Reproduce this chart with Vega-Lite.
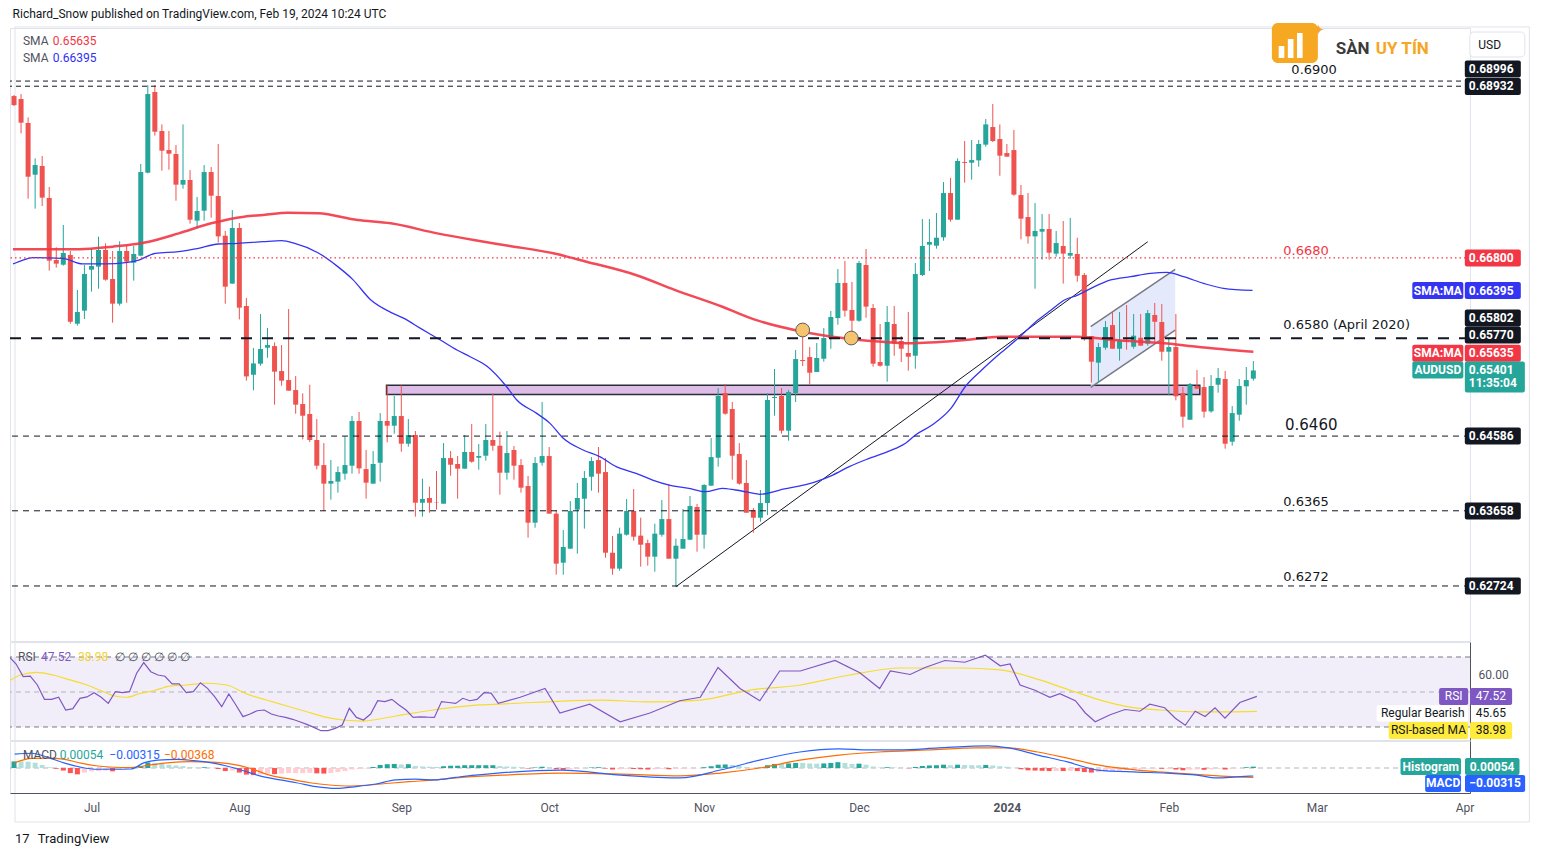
{
"$schema": "https://vega.github.io/schema/vega-lite/v6.json",
"background": "white",
"padding": {"left": 8, "top": 7, "right": 0, "bottom": 0},
"spacing": 1,
"bounds": "flush",
"config": {"font": "Roboto", "view": {"stroke": "#e0e3eb"}, "axis": {"grid": false}},
"datasets": {
"candles": [
{"i":-11,"o":0.6881,"h":0.68823,"l":0.68686,"c":0.68698},
{"i":-10,"o":0.68773,"h":0.68835,"l":0.68347,"c":0.68479},
{"i":-9,"o":0.68475,"h":0.68545,"l":0.67535,"c":0.67808},
{"i":-8,"o":0.67833,"h":0.68036,"l":0.67411,"c":0.67953},
{"i":-7,"o":0.67941,"h":0.68065,"l":0.67444,"c":0.67548},
{"i":-6,"o":0.67544,"h":0.6768,"l":0.66641,"c":0.66765},
{"i":-5,"o":0.66773,"h":0.66931,"l":0.66678,"c":0.66728},
{"i":-4,"o":0.66715,"h":0.67208,"l":0.66703,"c":0.6686},
{"i":-3,"o":0.66835,"h":0.66885,"l":0.65982,"c":0.66006},
{"i":-2,"o":0.65982,"h":0.66401,"l":0.65957,"c":0.66127},
{"i":-1,"o":0.66144,"h":0.66711,"l":0.6604,"c":0.66599},
{"i":0,"o":0.66653,"h":0.66918,"l":0.6638,"c":0.66699},
{"i":1,"o":0.66691,"h":0.67063,"l":0.66417,"c":0.66898},
{"i":2,"o":0.66898,"h":0.6698,"l":0.66517,"c":0.66529},
{"i":3,"o":0.66537,"h":0.66885,"l":0.65994,"c":0.66231},
{"i":4,"o":0.66231,"h":0.67005,"l":0.66206,"c":0.66885},
{"i":5,"o":0.66885,"h":0.66964,"l":0.66243,"c":0.66753},
{"i":6,"o":0.6674,"h":0.66947,"l":0.66517,"c":0.66848},
{"i":7,"o":0.66827,"h":0.67966,"l":0.6682,"c":0.67866},
{"i":8,"o":0.67858,"h":0.68947,"l":0.6785,"c":0.68835},
{"i":9,"o":0.6886,"h":0.68947,"l":0.68318,"c":0.68367},
{"i":10,"o":0.68376,"h":0.68458,"l":0.67883,"c":0.68131},
{"i":11,"o":0.68139,"h":0.68376,"l":0.67895,"c":0.68094},
{"i":12,"o":0.6809,"h":0.68202,"l":0.6751,"c":0.67709},
{"i":13,"o":0.67709,"h":0.68458,"l":0.67659,"c":0.67767},
{"i":14,"o":0.67767,"h":0.6789,"l":0.67225,"c":0.67274},
{"i":15,"o":0.67262,"h":0.67556,"l":0.67163,"c":0.67382},
{"i":16,"o":0.67386,"h":0.67953,"l":0.67262,"c":0.67866},
{"i":17,"o":0.67866,"h":0.67928,"l":0.67299,"c":0.67572},
{"i":18,"o":0.67568,"h":0.68214,"l":0.6699,"c":0.67067},
{"i":19,"o":0.67075,"h":0.67134,"l":0.66231,"c":0.66442},
{"i":20,"o":0.6648,"h":0.67394,"l":0.6648,"c":0.67171},
{"i":21,"o":0.67171,"h":0.67233,"l":0.66035,"c":0.66181},
{"i":22,"o":0.66202,"h":0.66301,"l":0.65274,"c":0.65327},
{"i":23,"o":0.65348,"h":0.65679,"l":0.65154,"c":0.65489},
{"i":24,"o":0.65485,"h":0.66102,"l":0.6546,"c":0.65667},
{"i":25,"o":0.65684,"h":0.65928,"l":0.65559,"c":0.65717},
{"i":26,"o":0.65704,"h":0.6575,"l":0.64976,"c":0.65386},
{"i":27,"o":0.65394,"h":0.65717,"l":0.65212,"c":0.65274},
{"i":28,"o":0.65282,"h":0.66164,"l":0.6515,"c":0.6515},
{"i":29,"o":0.65158,"h":0.65332,"l":0.64864,"c":0.64976},
{"i":30,"o":0.64984,"h":0.65117,"l":0.64545,"c":0.64839},
{"i":31,"o":0.6486,"h":0.65224,"l":0.64512,"c":0.64537},
{"i":32,"o":0.64537,"h":0.64798,"l":0.64172,"c":0.64218},
{"i":33,"o":0.64226,"h":0.64499,"l":0.63655,"c":0.63995},
{"i":34,"o":0.63995,"h":0.64288,"l":0.63796,"c":0.64028},
{"i":35,"o":0.6402,"h":0.64209,"l":0.63883,"c":0.64139},
{"i":36,"o":0.64119,"h":0.64582,"l":0.64044,"c":0.64226},
{"i":37,"o":0.64218,"h":0.64835,"l":0.64119,"c":0.64773},
{"i":38,"o":0.64773,"h":0.64885,"l":0.64119,"c":0.64185},
{"i":39,"o":0.64176,"h":0.64413,"l":0.63808,"c":0.64007},
{"i":40,"o":0.63995,"h":0.644,"l":0.63995,"c":0.64239},
{"i":41,"o":0.64255,"h":0.64872,"l":0.6402,"c":0.64773},
{"i":42,"o":0.64773,"h":0.65216,"l":0.64508,"c":0.64715},
{"i":43,"o":0.64715,"h":0.65084,"l":0.64616,"c":0.64835},
{"i":44,"o":0.64835,"h":0.65216,"l":0.64392,"c":0.64491},
{"i":45,"o":0.64491,"h":0.64798,"l":0.64454,"c":0.64599},
{"i":46,"o":0.64599,"h":0.64649,"l":0.63585,"c":0.63758},
{"i":47,"o":0.63758,"h":0.64057,"l":0.63585,"c":0.63804},
{"i":48,"o":0.63817,"h":0.63957,"l":0.63634,"c":0.63758},
{"i":49,"o":0.63767,"h":0.64152,"l":0.63672,"c":0.63763},
{"i":50,"o":0.63746,"h":0.64499,"l":0.63746,"c":0.64313},
{"i":51,"o":0.64313,"h":0.644,"l":0.64094,"c":0.6423},
{"i":52,"o":0.64239,"h":0.64338,"l":0.63808,"c":0.64181},
{"i":53,"o":0.64181,"h":0.64599,"l":0.64181,"c":0.64388},
{"i":54,"o":0.64388,"h":0.64735,"l":0.64255,"c":0.64268},
{"i":55,"o":0.64317,"h":0.64487,"l":0.64168,"c":0.64338},
{"i":56,"o":0.64342,"h":0.64735,"l":0.6428,"c":0.64537},
{"i":57,"o":0.64537,"h":0.65117,"l":0.64404,"c":0.64466},
{"i":58,"o":0.64466,"h":0.64641,"l":0.63858,"c":0.64131},
{"i":59,"o":0.64131,"h":0.64649,"l":0.64044,"c":0.64375},
{"i":60,"o":0.64413,"h":0.64462,"l":0.64044,"c":0.64218},
{"i":61,"o":0.64226,"h":0.643,"l":0.63883,"c":0.63945},
{"i":62,"o":0.63966,"h":0.6409,"l":0.63324,"c":0.6351},
{"i":63,"o":0.6351,"h":0.64325,"l":0.63448,"c":0.64251},
{"i":64,"o":0.64255,"h":0.65009,"l":0.64218,"c":0.64338},
{"i":65,"o":0.64338,"h":0.6445,"l":0.63622,"c":0.63622},
{"i":66,"o":0.63622,"h":0.63667,"l":0.62864,"c":0.63001},
{"i":67,"o":0.63013,"h":0.63419,"l":0.62864,"c":0.63208},
{"i":68,"o":0.63187,"h":0.63779,"l":0.63187,"c":0.63655},
{"i":69,"o":0.63672,"h":0.64003,"l":0.63125,"c":0.63817},
{"i":70,"o":0.63808,"h":0.64152,"l":0.63436,"c":0.64065},
{"i":71,"o":0.64081,"h":0.64325,"l":0.63907,"c":0.64276},
{"i":72,"o":0.64288,"h":0.6445,"l":0.63883,"c":0.64119},
{"i":73,"o":0.64139,"h":0.64313,"l":0.63075,"c":0.63137},
{"i":74,"o":0.63137,"h":0.63345,"l":0.62864,"c":0.62939},
{"i":75,"o":0.62939,"h":0.63448,"l":0.62914,"c":0.63374},
{"i":76,"o":0.63361,"h":0.63804,"l":0.63349,"c":0.63655},
{"i":77,"o":0.63655,"h":0.63928,"l":0.63287,"c":0.63336},
{"i":78,"o":0.63349,"h":0.63572,"l":0.62964,"c":0.63237},
{"i":79,"o":0.63257,"h":0.633,"l":0.62976,"c":0.63088},
{"i":80,"o":0.63088,"h":0.63498,"l":0.62902,"c":0.63374},
{"i":81,"o":0.63361,"h":0.63791,"l":0.63336,"c":0.63555},
{"i":82,"o":0.63555,"h":0.6399,"l":0.63063,"c":0.63063},
{"i":83,"o":0.63063,"h":0.63311,"l":0.62715,"c":0.63224},
{"i":84,"o":0.63187,"h":0.6368,"l":0.63187,"c":0.63307},
{"i":85,"o":0.63299,"h":0.63841,"l":0.63299,"c":0.63717},
{"i":86,"o":0.63705,"h":0.63742,"l":0.6315,"c":0.63361},
{"i":87,"o":0.63361,"h":0.6399,"l":0.63187,"c":0.63978},
{"i":88,"o":0.6397,"h":0.64562,"l":0.6397,"c":0.64325},
{"i":89,"o":0.64317,"h":0.65183,"l":0.64206,"c":0.65084},
{"i":90,"o":0.65121,"h":0.65233,"l":0.64851,"c":0.64864},
{"i":91,"o":0.64922,"h":0.65009,"l":0.64044,"c":0.64342},
{"i":92,"o":0.64363,"h":0.64499,"l":0.63982,"c":0.63995},
{"i":93,"o":0.64003,"h":0.64288,"l":0.63634,"c":0.63634},
{"i":94,"o":0.63667,"h":0.63692,"l":0.63386,"c":0.63572},
{"i":95,"o":0.63572,"h":0.63916,"l":0.63522,"c":0.63754},
{"i":96,"o":0.63754,"h":0.65117,"l":0.63605,"c":0.65034},
{"i":97,"o":0.65059,"h":0.65419,"l":0.64839,"c":0.65071},
{"i":98,"o":0.65084,"h":0.65183,"l":0.64616,"c":0.64653},
{"i":99,"o":0.64653,"h":0.65158,"l":0.64529,"c":0.65133},
{"i":100,"o":0.65121,"h":0.65655,"l":0.65009,"c":0.65543},
{"i":101,"o":0.65531,"h":0.65903,"l":0.65456,"c":0.65518},
{"i":102,"o":0.65568,"h":0.65692,"l":0.6522,"c":0.65373},
{"i":103,"o":0.65382,"h":0.65742,"l":0.65382,"c":0.65556},
{"i":104,"o":0.65547,"h":0.65928,"l":0.6551,"c":0.65804},
{"i":105,"o":0.65804,"h":0.6614,"l":0.65671,"c":0.66065},
{"i":106,"o":0.66052,"h":0.66661,"l":0.65969,"c":0.66488},
{"i":107,"o":0.66488,"h":0.66761,"l":0.66069,"c":0.66144},
{"i":108,"o":0.66152,"h":0.665,"l":0.65808,"c":0.66019},
{"i":109,"o":0.66019,"h":0.66761,"l":0.66006,"c":0.66736},
{"i":110,"o":0.66711,"h":0.6691,"l":0.66056,"c":0.66194},
{"i":111,"o":0.66177,"h":0.66227,"l":0.65448,"c":0.65485},
{"i":112,"o":0.65506,"h":0.65978,"l":0.65448,"c":0.6546},
{"i":113,"o":0.6546,"h":0.66202,"l":0.65262,"c":0.66003},
{"i":114,"o":0.65978,"h":0.66202,"l":0.65584,"c":0.65738},
{"i":115,"o":0.65767,"h":0.6583,"l":0.65506,"c":0.65671},
{"i":116,"o":0.65618,"h":0.66127,"l":0.65398,"c":0.65572},
{"i":117,"o":0.65584,"h":0.66736,"l":0.65423,"c":0.66599},
{"i":118,"o":0.66587,"h":0.67282,"l":0.66574,"c":0.66947},
{"i":119,"o":0.66964,"h":0.67282,"l":0.66637,"c":0.66997},
{"i":120,"o":0.66951,"h":0.67357,"l":0.66914,"c":0.6705},
{"i":121,"o":0.67055,"h":0.67742,"l":0.67013,"c":0.67605},
{"i":122,"o":0.67605,"h":0.67792,"l":0.6725,"c":0.67274},
{"i":123,"o":0.67274,"h":0.68036,"l":0.67274,"c":0.68003},
{"i":124,"o":0.6799,"h":0.68251,"l":0.67734,"c":0.67978},
{"i":125,"o":0.67982,"h":0.68264,"l":0.67771,"c":0.68015},
{"i":126,"o":0.68011,"h":0.68264,"l":0.67932,"c":0.68214},
{"i":127,"o":0.68206,"h":0.68525,"l":0.68181,"c":0.68458},
{"i":128,"o":0.68425,"h":0.68711,"l":0.68239,"c":0.68251},
{"i":129,"o":0.68276,"h":0.68458,"l":0.6782,"c":0.68069},
{"i":130,"o":0.68102,"h":0.68214,"l":0.68057,"c":0.68057},
{"i":131,"o":0.68139,"h":0.68388,"l":0.67572,"c":0.67585},
{"i":132,"o":0.6758,"h":0.67705,"l":0.6703,"c":0.67287},
{"i":133,"o":0.67307,"h":0.67605,"l":0.66976,"c":0.67067},
{"i":134,"o":0.67067,"h":0.67481,"l":0.66417,"c":0.67134},
{"i":135,"o":0.67125,"h":0.67345,"l":0.66777,"c":0.67158},
{"i":136,"o":0.67158,"h":0.67345,"l":0.66777,"c":0.66864},
{"i":137,"o":0.66852,"h":0.67134,"l":0.66814,"c":0.66984},
{"i":138,"o":0.66947,"h":0.67258,"l":0.6648,"c":0.66852},
{"i":139,"o":0.66827,"h":0.67295,"l":0.66789,"c":0.6686},
{"i":140,"o":0.66848,"h":0.6705,"l":0.66504,"c":0.66578},
{"i":141,"o":0.66587,"h":0.66612,"l":0.65771,"c":0.658},
{"i":142,"o":0.65829,"h":0.65829,"l":0.6525,"c":0.6551},
{"i":143,"o":0.65498,"h":0.65742,"l":0.6525,"c":0.65692},
{"i":144,"o":0.65684,"h":0.66015,"l":0.65659,"c":0.6594},
{"i":145,"o":0.65965,"h":0.6614,"l":0.65671,"c":0.65671},
{"i":146,"o":0.65671,"h":0.66127,"l":0.65523,"c":0.65771},
{"i":147,"o":0.65779,"h":0.66214,"l":0.65659,"c":0.65763},
{"i":148,"o":0.65696,"h":0.66102,"l":0.65671,"c":0.65833},
{"i":149,"o":0.65808,"h":0.66102,"l":0.65709,"c":0.65709},
{"i":150,"o":0.65734,"h":0.66152,"l":0.65709,"c":0.66114},
{"i":151,"o":0.6609,"h":0.66239,"l":0.65758,"c":0.66006},
{"i":152,"o":0.66003,"h":0.66227,"l":0.65523,"c":0.65634},
{"i":153,"o":0.65634,"h":0.65792,"l":0.65092,"c":0.65692},
{"i":154,"o":0.65692,"h":0.66102,"l":0.6503,"c":0.6508},
{"i":155,"o":0.65121,"h":0.65195,"l":0.6469,"c":0.64827},
{"i":156,"o":0.64789,"h":0.65245,"l":0.64789,"c":0.65233},
{"i":157,"o":0.65208,"h":0.65406,"l":0.65175,"c":0.65175},
{"i":158,"o":0.65195,"h":0.65319,"l":0.64814,"c":0.64889},
{"i":159,"o":0.64893,"h":0.65344,"l":0.64876,"c":0.65208},
{"i":160,"o":0.65224,"h":0.65431,"l":0.65125,"c":0.65307},
{"i":161,"o":0.65295,"h":0.65394,"l":0.64429,"c":0.64491},
{"i":162,"o":0.64516,"h":0.64959,"l":0.64466,"c":0.64872},
{"i":163,"o":0.64852,"h":0.65295,"l":0.64777,"c":0.65208},
{"i":164,"o":0.65204,"h":0.65444,"l":0.64976,"c":0.65282},
{"i":165,"o":0.65299,"h":0.65518,"l":0.65274,"c":0.65401}
],
"sma200": [
{"i":-11.14,"v":0.66906},{"i":-1.7,"v":0.66906},{"i":3,"v":0.66939},{"i":7.6,"v":0.6699},{"i":12.4,"v":0.67104},{"i":17,"v":0.67229},{"i":21.7,"v":0.67312},{"i":24.4,"v":0.67332},{"i":27.9,"v":0.67361},{"i":32.2,"v":0.67353},{"i":37.8,"v":0.6727},{"i":42.5,"v":0.67229},{"i":49.1,"v":0.67104},{"i":54.3,"v":0.67021},{"i":59.2,"v":0.66951},{"i":65.6,"v":0.66856},{"i":70.3,"v":0.66752},{"i":77.3,"v":0.66587},{"i":82.9,"v":0.664},{"i":89.6,"v":0.66193},{"i":94.1,"v":0.66036},{"i":101,"v":0.65883},{"i":105.2,"v":0.65821},{"i":112.3,"v":0.65758},{"i":116.1,"v":0.65738},{"i":124.1,"v":0.65779},{"i":129.1,"v":0.65821},{"i":140,"v":0.65821},{"i":145.2,"v":0.65779},{"i":152.3,"v":0.65738},{"i":157,"v":0.65696},{"i":161.7,"v":0.65655},{"i":165,"v":0.65635}
],
"sma50": [
{"i":-11.14,"v":0.66724},{"i":-9.73,"v":0.66773},{"i":-8.32,"v":0.66802},{"i":-4.09,"v":0.66794},{"i":-1.27,"v":0.66724},{"i":2.02,"v":0.66724},{"i":4.84,"v":0.6674},{"i":6.72,"v":0.66773},{"i":9.07,"v":0.66856},{"i":12.37,"v":0.66877},{"i":15.19,"v":0.66918},{"i":18.01,"v":0.66972},{"i":20.83,"v":0.6698},{"i":24.4,"v":0.67001},{"i":26.99,"v":0.67013},{"i":28.87,"v":0.6698},{"i":32.16,"v":0.66864},{"i":34.98,"v":0.66691},{"i":37.09,"v":0.66533},{"i":39.68,"v":0.66276},{"i":42.5,"v":0.66123},{"i":44.38,"v":0.66048},{"i":46.73,"v":0.65924},{"i":49.55,"v":0.65779},{"i":51.9,"v":0.65655},{"i":53.78,"v":0.65572},{"i":56.13,"v":0.65456},{"i":58.96,"v":0.65199},{"i":60.41,"v":0.65034},{"i":63.23,"v":0.64868},{"i":65.12,"v":0.64744},{"i":67,"v":0.64558},{"i":69.82,"v":0.64413},{"i":72.17,"v":0.6433},{"i":74.52,"v":0.64206},{"i":77.34,"v":0.64123},{"i":79.69,"v":0.6404},{"i":82.04,"v":0.63978},{"i":84.86,"v":0.63937},{"i":87.21,"v":0.63895},{"i":89.56,"v":0.63937},{"i":91.44,"v":0.63916},{"i":94.08,"v":0.63875},{"i":94.92,"v":0.63862},{"i":97.74,"v":0.63916},{"i":102.91,"v":0.6402},{"i":105.27,"v":0.64102},{"i":107.62,"v":0.64206},{"i":110.44,"v":0.64309},{"i":114.2,"v":0.64433},{"i":115.61,"v":0.64496},{"i":117.02,"v":0.64599},{"i":119.37,"v":0.64723},{"i":122.05,"v":0.6493},{"i":124.08,"v":0.65199},{"i":126.43,"v":0.65406},{"i":129.06,"v":0.65614},{"i":131.59,"v":0.658},{"i":134.41,"v":0.66028},{"i":136.29,"v":0.66152},{"i":138.18,"v":0.66276},{"i":140.06,"v":0.66338},{"i":141.94,"v":0.66421},{"i":144.75,"v":0.66525},{"i":147.57,"v":0.66566},{"i":150.4,"v":0.66607},{"i":152.75,"v":0.6662},{"i":155.1,"v":0.66566},{"i":157.92,"v":0.66483},{"i":160.75,"v":0.66421},{"i":164.88,"v":0.66395}
],
"rsi": [
{"i":-11,"v":70.2},{"i":-10,"v":66},{"i":-9,"v":58.8},{"i":-8,"v":59.1},{"i":-7,"v":54},{"i":-6,"v":45.8},{"i":-5,"v":45.8},{"i":-4,"v":47},{"i":-3,"v":39.7},{"i":-2,"v":40.5},{"i":-1,"v":46.4},{"i":0,"v":47.2},{"i":1,"v":49.6},{"i":2,"v":47},{"i":3,"v":43.5},{"i":4,"v":50.2},{"i":5,"v":49.6},{"i":6,"v":50.2},{"i":7,"v":60.7},{"i":8,"v":66.8},{"i":9,"v":61.6},{"i":10,"v":59.7},{"i":11,"v":59},{"i":12,"v":54.6},{"i":13,"v":54.6},{"i":14,"v":49.6},{"i":15,"v":50.2},{"i":16,"v":55.3},{"i":17,"v":52.1},{"i":18,"v":47.3},{"i":19,"v":41.6},{"i":20,"v":48.9},{"i":21,"v":42.6},{"i":22,"v":35.9},{"i":23,"v":37.4},{"i":24,"v":39.3},{"i":25,"v":39.7},{"i":26,"v":37.4},{"i":27,"v":36.3},{"i":28,"v":35.5},{"i":29,"v":34.4},{"i":30,"v":33},{"i":31,"v":31.5},{"i":32,"v":29.8},{"i":33,"v":27.9},{"i":34,"v":27.9},{"i":35,"v":29.2},{"i":36,"v":31.1},{"i":37,"v":40.7},{"i":38,"v":35.5},{"i":39,"v":34},{"i":40,"v":37.4},{"i":41,"v":45},{"i":42,"v":44.5},{"i":43,"v":45.8},{"i":44,"v":42.6},{"i":45,"v":39.7},{"i":46,"v":35.5},{"i":47,"v":35.8},{"i":48,"v":35.6},{"i":49,"v":35.5},{"i":50,"v":44.5},{"i":51,"v":44},{"i":52,"v":43.5},{"i":53,"v":46.4},{"i":54,"v":45},{"i":55,"v":45.8},{"i":56,"v":49.6},{"i":57,"v":49.4},{"i":58,"v":43.5},
{"i":61.1,"v":47},{"i":64.6,"v":52},{"i":66.7,"v":38},{"i":70.9,"v":43},{"i":75.2,"v":33},{"i":79.4,"v":38},{"i":83.6,"v":45},{"i":86.5,"v":47},{"i":89,"v":64},{"i":92.1,"v":52},{"i":94.9,"v":45},{"i":97.7,"v":62},{"i":100.6,"v":62},{"i":105.5,"v":68},{"i":109,"v":61},{"i":111.8,"v":52},{"i":113.3,"v":62},{"i":116.1,"v":60},{"i":118.2,"v":64},{"i":121,"v":68},{"i":123.8,"v":67},{"i":126.7,"v":71},{"i":128.8,"v":65},{"i":130.2,"v":66},{"i":131.6,"v":54},{"i":133.7,"v":51},{"i":135.8,"v":47},{"i":137.2,"v":49},{"i":139.4,"v":45},{"i":140.8,"v":38},{"i":142.2,"v":33},{"i":144.3,"v":37},{"i":146.4,"v":40},{"i":148.5,"v":39},{"i":149.9,"v":43},{"i":152,"v":41},{"i":153.5,"v":35},{"i":154.9,"v":31},{"i":156.3,"v":39},{"i":157.7,"v":36},{"i":159.1,"v":41},{"i":160.5,"v":35},{"i":162.6,"v":44},{"i":165,"v":47.52}
],
"rsima": [
{"i":-10.9,"v":56.5},{"i":-9.4,"v":59.7},{"i":-7.1,"v":61.2},{"i":-4.8,"v":59.7},{"i":-2.4,"v":56.9},{"i":0,"v":54},{"i":2.3,"v":50.2},{"i":3.9,"v":47.7},{"i":5.6,"v":47},{"i":7.5,"v":49.2},{"i":9.4,"v":50.7},{"i":11.7,"v":53.4},{"i":14.1,"v":54},{"i":16.9,"v":55},{"i":19.7,"v":54},{"i":22.5,"v":48.9},{"i":25.3,"v":45.4},{"i":28.2,"v":42},{"i":31,"v":38.7},{"i":33.8,"v":35.5},{"i":36.1,"v":34},{"i":39,"v":33.4},{"i":41.8,"v":35},{"i":45.1,"v":37.4},{"i":48.8,"v":39.7},{"i":52.6,"v":41.6},{"i":55.4,"v":42.6},{"i":58.3,"v":43.1},{"i":72.4,"v":45.4},{"i":79.4,"v":44.3},{"i":86.5,"v":45.4},{"i":93.5,"v":51.1},{"i":100.6,"v":54},{"i":107.6,"v":59.7},{"i":114.7,"v":63.7},{"i":123.1,"v":63.7},{"i":128.8,"v":62.6},{"i":134.4,"v":56.9},{"i":138.6,"v":51.1},{"i":142.9,"v":45.4},{"i":147.1,"v":41.4},{"i":151.3,"v":39.7},{"i":157,"v":38.6},{"i":165,"v":38.98}
],
"macd": [
{"i":-10.9,"v":0.0055},{"i":-8.5,"v":0.0058},{"i":-6.2,"v":0.0042},{"i":-3.8,"v":0.0019},{"i":-1.5,"v":0.0003},{"i":0.9,"v":-0.0005},{"i":3.2,"v":-0.0005},{"i":5.6,"v":-0.0004},{"i":7.5,"v":0.0021},{"i":9.4,"v":0.0031},{"i":12.2,"v":0.0034},{"i":14.5,"v":0.0029},{"i":16.9,"v":0.0021},{"i":19.2,"v":0.0008},{"i":21.6,"v":-0.0011},{"i":23.9,"v":-0.0031},{"i":26.8,"v":-0.0047},{"i":29.1,"v":-0.0058},{"i":31.9,"v":-0.0073},{"i":34.7,"v":-0.008},{"i":37.6,"v":-0.0073},{"i":40.4,"v":-0.0063},{"i":43.2,"v":-0.0047},{"i":46,"v":-0.0044},{"i":48.8,"v":-0.0047},{"i":51.7,"v":-0.0037},{"i":54.5,"v":-0.0028},{"i":57.3,"v":-0.0021},{"i":66.7,"v":-0.0008},{"i":75.2,"v":-0.0028},{"i":83.6,"v":-0.0039},{"i":89.3,"v":-0.0008},{"i":94.9,"v":0.0031},{"i":100.6,"v":0.0063},{"i":106.2,"v":0.0075},{"i":110.4,"v":0.0071},{"i":114.7,"v":0.0071},{"i":120.3,"v":0.0079},{"i":127.4,"v":0.0087},{"i":130.2,"v":0.0079},{"i":134.4,"v":0.0051},{"i":138.6,"v":0.0024},{"i":142.9,"v":-0.0008},{"i":148.5,"v":-0.0016},{"i":152.7,"v":-0.002},{"i":157,"v":-0.0028},{"i":159.8,"v":-0.0039},{"i":162.6,"v":-0.0035},{"i":165,"v":-0.00315}
],
"signal": [
{"i":-10.9,"v":0.0021},{"i":-8.5,"v":0.0038},{"i":-6.2,"v":0.0039},{"i":-3.8,"v":0.0034},{"i":-1.5,"v":0.0019},{"i":0.9,"v":0.0008},{"i":3.2,"v":0.0003},{"i":5.6,"v":0.0002},{"i":8.4,"v":0.0012},{"i":11.2,"v":0.0021},{"i":14.1,"v":0.0025},{"i":16.9,"v":0.0023},{"i":19.7,"v":0.0016},{"i":22.5,"v":-0.0001},{"i":25.3,"v":-0.0028},{"i":28.2,"v":-0.0044},{"i":31,"v":-0.0058},{"i":33.8,"v":-0.0067},{"i":36.6,"v":-0.0071},{"i":39.4,"v":-0.0067},{"i":42.3,"v":-0.006},{"i":45.1,"v":-0.0054},{"i":48.8,"v":-0.0047},{"i":52.6,"v":-0.0037},{"i":58.3,"v":-0.0028},{"i":66.7,"v":-0.002},{"i":75.2,"v":-0.0024},{"i":83.6,"v":-0.0031},{"i":89.3,"v":-0.002},{"i":94.9,"v":0},{"i":100.6,"v":0.0031},{"i":106.2,"v":0.0051},{"i":111.8,"v":0.0063},{"i":118.8,"v":0.0071},{"i":125.9,"v":0.0079},{"i":130.2,"v":0.0079},{"i":134.4,"v":0.0063},{"i":138.6,"v":0.0039},{"i":142.9,"v":0.0012},{"i":148.5,"v":-0.0008},{"i":154.1,"v":-0.002},{"i":158.4,"v":-0.0028},{"i":162.6,"v":-0.0035},{"i":165,"v":-0.00368}
],
"hist": [
{"i":-11,"v":0.0026,"s":"pg"},{"i":-10,"v":0.0026,"s":"pf"},{"i":-9,"v":0.0025,"s":"pf"},{"i":-8,"v":0.0021,"s":"pf"},{"i":-7,"v":0.0012,"s":"pf"},{"i":-6,"v":0.0003,"s":"pf"},{"i":-5,"v":-0.0003,"s":"ng"},{"i":-4,"v":-0.001,"s":"ng"},{"i":-3,"v":-0.002,"s":"ng"},{"i":-2,"v":-0.0025,"s":"ng"},{"i":-1,"v":-0.0018,"s":"nf"},{"i":0,"v":-0.0013,"s":"nf"},{"i":1,"v":-0.0012,"s":"nf"},{"i":2,"v":-0.001,"s":"nf"},{"i":3,"v":-0.0013,"s":"ng"},{"i":4,"v":-0.0006,"s":"nf"},{"i":5,"v":-0.0003,"s":"nf"},{"i":6,"v":-0.0001,"s":"nf"},{"i":7,"v":0.0008,"s":"pg"},{"i":8,"v":0.0022,"s":"pg"},{"i":9,"v":0.002,"s":"pf"},{"i":10,"v":0.0017,"s":"pf"},{"i":11,"v":0.0013,"s":"pf"},{"i":12,"v":0.001,"s":"pf"},{"i":13,"v":0.0007,"s":"pf"},{"i":14,"v":0.0004,"s":"pf"},{"i":15,"v":0.0002,"s":"pf"},{"i":16,"v":0.0003,"s":"pg"},{"i":17,"v":0.0001,"s":"pf"},{"i":18,"v":-0.0004,"s":"ng"},{"i":19,"v":-0.0012,"s":"ng"},{"i":20,"v":-0.001,"s":"nf"},{"i":21,"v":-0.0018,"s":"ng"},{"i":22,"v":-0.0026,"s":"ng"},{"i":23,"v":-0.0028,"s":"ng"},{"i":24,"v":-0.0025,"s":"nf"},{"i":25,"v":-0.0022,"s":"nf"},{"i":26,"v":-0.0024,"s":"ng"},{"i":27,"v":-0.0022,"s":"nf"},{"i":28,"v":-0.002,"s":"nf"},{"i":29,"v":-0.002,"s":"nf"},{"i":30,"v":-0.002,"s":"nf"},{"i":31,"v":-0.0019,"s":"nf"},{"i":32,"v":-0.0021,"s":"ng"},{"i":33,"v":-0.0022,"s":"ng"},{"i":34,"v":-0.002,"s":"nf"},{"i":35,"v":-0.0016,"s":"nf"},{"i":36,"v":-0.0012,"s":"nf"},{"i":37,"v":-0.0006,"s":"nf"},{"i":38,"v":-0.0004,"s":"nf"},{"i":39,"v":-0.0002,"s":"nf"},{"i":40,"v":0.0004,"s":"pg"},{"i":41,"v":0.0012,"s":"pg"},{"i":42,"v":0.0015,"s":"pg"},{"i":43,"v":0.0016,"s":"pg"},{"i":44,"v":0.0014,"s":"pf"},{"i":45,"v":0.0015,"s":"pg"},{"i":46,"v":0.0008,"s":"pf"},{"i":47,"v":0.0006,"s":"pf"},{"i":48,"v":0.0005,"s":"pf"},{"i":49,"v":0.0004,"s":"pf"},{"i":50,"v":0.0007,"s":"pg"},{"i":51,"v":0.0009,"s":"pg"},{"i":52,"v":0.0009,"s":"pg"},{"i":53,"v":0.0011,"s":"pg"},{"i":54,"v":0.0011,"s":"pg"},{"i":55,"v":0.0011,"s":"pg"},{"i":56,"v":0.0011,"s":"pg"},{"i":57,"v":0.0011,"s":"pg"},{"i":58,"v":0.0008,"s":"pf"},
{"i":59,"v":0.0006,"s":"pf"},{"i":60,"v":0.0005,"s":"pf"},{"i":61,"v":0.0003,"s":"pf"},{"i":62,"v":-0.0002,"s":"ng"},{"i":63,"v":0.0002,"s":"pg"},{"i":64,"v":0.0005,"s":"pg"},{"i":65,"v":0.0002,"s":"pf"},{"i":66,"v":-0.0005,"s":"ng"},{"i":67,"v":-0.0007,"s":"ng"},{"i":68,"v":-0.0005,"s":"nf"},{"i":69,"v":-0.0003,"s":"nf"},{"i":70,"v":-0.0001,"s":"nf"},{"i":71,"v":0.0002,"s":"pg"},{"i":72,"v":0.0003,"s":"pg"},{"i":73,"v":-0.0002,"s":"ng"},{"i":74,"v":-0.0006,"s":"ng"},{"i":75,"v":-0.0005,"s":"nf"},{"i":76,"v":-0.0003,"s":"nf"},{"i":77,"v":-0.0004,"s":"ng"},{"i":78,"v":-0.0005,"s":"ng"},{"i":79,"v":-0.0006,"s":"ng"},{"i":80,"v":-0.0005,"s":"nf"},{"i":81,"v":-0.0003,"s":"nf"},{"i":82,"v":-0.0005,"s":"ng"},{"i":83,"v":-0.0004,"s":"nf"},{"i":84,"v":-0.0003,"s":"nf"},{"i":85,"v":-0.0001,"s":"nf"},{"i":86,"v":-0.0001,"s":"nf"},{"i":87,"v":0.0003,"s":"pg"},{"i":88,"v":0.0007,"s":"pg"},{"i":89,"v":0.0013,"s":"pg"},{"i":90,"v":0.0014,"s":"pg"},{"i":91,"v":0.0012,"s":"pf"},{"i":92,"v":0.0008,"s":"pf"},{"i":93,"v":0.0003,"s":"pf"},{"i":94,"v":0.0001,"s":"pf"},{"i":95,"v":0.0002,"s":"pg"},{"i":96,"v":0.0011,"s":"pg"},{"i":97,"v":0.0016,"s":"pg"},{"i":98,"v":0.0016,"s":"pf"},{"i":99,"v":0.0018,"s":"pg"},{"i":100,"v":0.002,"s":"pg"},{"i":101,"v":0.002,"s":"pf"},{"i":102,"v":0.0018,"s":"pf"},{"i":103,"v":0.0017,"s":"pf"},{"i":104,"v":0.0018,"s":"pg"},{"i":105,"v":0.002,"s":"pg"},{"i":106,"v":0.0023,"s":"pg"},{"i":107,"v":0.002,"s":"pf"},{"i":108,"v":0.0016,"s":"pf"},{"i":109,"v":0.0017,"s":"pg"},{"i":110,"v":0.0013,"s":"pf"},{"i":111,"v":0.0006,"s":"pf"},{"i":112,"v":0.0002,"s":"pf"},{"i":113,"v":0.0003,"s":"pg"},{"i":114,"v":0.0002,"s":"pf"},{"i":115,"v":0.0001,"s":"pf"},{"i":116,"v":-0.0001,"s":"ng"},{"i":117,"v":0.0004,"s":"pg"},{"i":118,"v":0.0008,"s":"pg"},{"i":119,"v":0.001,"s":"pg"},{"i":120,"v":0.0011,"s":"pg"},{"i":121,"v":0.0013,"s":"pg"},{"i":122,"v":0.0011,"s":"pf"},{"i":123,"v":0.0013,"s":"pg"},{"i":124,"v":0.0012,"s":"pf"},{"i":125,"v":0.0011,"s":"pf"},{"i":126,"v":0.0011,"s":"pf"},{"i":127,"v":0.0012,"s":"pg"},{"i":128,"v":0.001,"s":"pf"},{"i":129,"v":0.0007,"s":"pf"},{"i":130,"v":0.0005,"s":"pf"},{"i":131,"v":0.0001,"s":"pf"},{"i":132,"v":-0.0005,"s":"ng"},{"i":133,"v":-0.0009,"s":"ng"},{"i":134,"v":-0.001,"s":"ng"},{"i":135,"v":-0.0011,"s":"ng"},{"i":136,"v":-0.0012,"s":"ng"},{"i":137,"v":-0.0012,"s":"nf"},{"i":138,"v":-0.0012,"s":"ng"},{"i":139,"v":-0.0011,"s":"nf"},{"i":140,"v":-0.0012,"s":"ng"},{"i":141,"v":-0.0016,"s":"ng"},{"i":142,"v":-0.0018,"s":"ng"},{"i":143,"v":-0.0016,"s":"nf"},{"i":144,"v":-0.0013,"s":"nf"},{"i":145,"v":-0.0012,"s":"nf"},{"i":146,"v":-0.001,"s":"nf"},{"i":147,"v":-0.0008,"s":"nf"},{"i":148,"v":-0.0006,"s":"nf"},{"i":149,"v":-0.0005,"s":"nf"},{"i":150,"v":-0.0002,"s":"nf"},{"i":151,"v":-0.0002,"s":"nf"},{"i":152,"v":-0.0003,"s":"ng"},{"i":153,"v":-0.0003,"s":"nf"},{"i":154,"v":-0.0006,"s":"ng"},{"i":155,"v":-0.0009,"s":"ng"},{"i":156,"v":-0.0007,"s":"nf"},{"i":157,"v":-0.0006,"s":"nf"},{"i":158,"v":-0.0007,"s":"ng"},{"i":159,"v":-0.0005,"s":"nf"},{"i":160,"v":-0.0003,"s":"nf"},{"i":161,"v":-0.0006,"s":"ng"},{"i":162,"v":-0.0004,"s":"nf"},{"i":163,"v":-0.0001,"s":"nf"},{"i":164,"v":0.0003,"s":"pg"},{"i":165,"v":0.00054,"s":"pg"}
]
},
"vconcat": [
{
"width": 1460, "height": 613,
"resolve": {"scale": {"color": "independent"}},
"layer": [
{"data": {"values": [{"a": -10.86, "b": 204.2, "top": 0.69668, "bot": 0.59792}]},
 "mark": {"type": "rect", "fill": null, "stroke": "#e0e3eb", "strokeWidth": 1},
 "encoding": {"x": {"field": "a", "type": "quantitative", "scale": {"domain": [-10.86, 195.06], "nice": false, "zero": false}, "axis": null}, "x2": {"field": "b"}, "y": {"field": "top", "type": "quantitative", "scale": {"domain": [0.620404, 0.696553], "nice": false, "zero": false}, "axis": null}, "y2": {"field": "bot"}}},
{"data": {"values": [{"a": 41.9, "b": 157.4, "lo": 0.65104, "hi": 0.65216}]},
 "mark": {"type": "rect", "fill": "#ddbde8", "stroke": "#2a2e39", "strokeWidth": 1.5},
 "encoding": {"x": {"field": "a", "type": "quantitative"}, "x2": {"field": "b"}, "y": {"field": "lo", "type": "quantitative"}, "y2": {"field": "hi"}}},
{"data": {"values": [{"i": 141.9, "lo": 0.65191, "hi": 0.65945}, {"i": 153.9, "lo": 0.65903, "hi": 0.66657}]},
 "mark": {"type": "area", "color": "#dfe6fb", "opacity": 0.85},
 "encoding": {"x": {"field": "i", "type": "quantitative"}, "y": {"field": "lo", "type": "quantitative"}, "y2": {"field": "hi"}}},
{"data": {"values": [{"a": 141.9, "pa": 0.65191, "b": 153.9, "pb": 0.65903}, {"a": 141.9, "pa": 0.65945, "b": 153.9, "pb": 0.66657}]},
 "mark": {"type": "rule", "color": "#787b86", "strokeWidth": 1.5},
 "encoding": {"x": {"field": "a", "type": "quantitative"}, "x2": {"field": "b"}, "y": {"field": "pa", "type": "quantitative"}, "y2": {"field": "pb"}}},
{"data": {"values": [{"a": 83, "pa": 0.62715, "b": 150, "pb": 0.67}]},
 "mark": {"type": "rule", "color": "#131722", "strokeWidth": 1},
 "encoding": {"x": {"field": "a", "type": "quantitative"}, "x2": {"field": "b"}, "y": {"field": "pa", "type": "quantitative"}, "y2": {"field": "pb"}}},
{"data": {"name": "candles"},
 "mark": {"type": "rule", "strokeWidth": 1, "clip": true},
 "encoding": {"x": {"field": "i", "type": "quantitative"}, "y": {"field": "l", "type": "quantitative", "axis": {"orient": "right", "title": null, "values": [0.625, 0.63, 0.635, 0.64, 0.645, 0.65, 0.655, 0.66, 0.665, 0.67, 0.675, 0.68, 0.685], "format": ".5f", "ticks": false, "labelPadding": 8, "labelFontSize": 12, "labelColor": "#50535e", "domainColor": "#50535e", "labelFont": "Roboto"}}, "y2": {"field": "h"},
  "color": {"condition": {"test": "datum.c >= datum.o", "value": "#26a69a"}, "value": "#ef5350"}}},
{"data": {"name": "candles"},
 "mark": {"type": "bar", "size": 5, "clip": true},
 "encoding": {"x": {"field": "i", "type": "quantitative"}, "y": {"field": "o", "type": "quantitative"}, "y2": {"field": "c"},
  "color": {"condition": {"test": "datum.c >= datum.o", "value": "#26a69a"}, "value": "#ef5350"}}},
{"data": {"name": "sma200"},
 "mark": {"type": "line", "color": "#f23645", "strokeWidth": 2.5, "opacity": 0.9, "interpolate": "monotone", "clip": true},
 "encoding": {"x": {"field": "i", "type": "quantitative"}, "y": {"field": "v", "type": "quantitative"}}},
{"data": {"name": "sma50"},
 "mark": {"type": "line", "color": "#3434f2", "strokeWidth": 1.3, "interpolate": "monotone", "clip": true},
 "encoding": {"x": {"field": "i", "type": "quantitative"}, "y": {"field": "v", "type": "quantitative"}}},
{"data": {"values": [{"p": 0.68996}, {"p": 0.68932}]},
 "mark": {"type": "rule", "color": "#131722", "strokeWidth": 1, "strokeDash": [5, 4]},
 "encoding": {"y": {"field": "p", "type": "quantitative"}}},
{"data": {"values": [{"p": 0.668}]},
 "mark": {"type": "rule", "color": "#f23645", "strokeWidth": 1.2, "strokeDash": [1.5, 3]},
 "encoding": {"y": {"field": "p", "type": "quantitative"}}},
{"data": {"values": [{"p": 0.65802}]},
 "mark": {"type": "rule", "color": "#131722", "strokeWidth": 2, "strokeDash": [11, 10]},
 "encoding": {"y": {"field": "p", "type": "quantitative"}}},
{"data": {"values": [{"p": 0.64586}, {"p": 0.63658}, {"p": 0.62724}]},
 "mark": {"type": "rule", "color": "#131722", "strokeWidth": 1, "strokeDash": [6, 5]},
 "encoding": {"y": {"field": "p", "type": "quantitative"}}},
{"data": {"values": [{"i": 101, "p": 0.65904}, {"i": 107.9, "p": 0.65804}]},
 "mark": {"type": "point", "filled": true, "size": 190, "fill": "#f6c46e", "stroke": "#5d5d5d", "strokeWidth": 1, "opacity": 1},
 "encoding": {"x": {"field": "i", "type": "quantitative"}, "y": {"field": "p", "type": "quantitative"}}},
{"data": {"values": [{"t": "0.6900", "i": 170.4, "p": 0.69134, "s": 13, "w": "b"}, {"t": "0.6680", "i": 169.25, "p": 0.66885, "s": 13, "w": "b"}, {"t": "0.6580 (April 2020)", "i": 169.25, "p": 0.65966, "s": 13, "w": "b"}, {"t": "0.6460", "i": 169.5, "p": 0.64724, "s": 15, "w": "n"}, {"t": "0.6365", "i": 169.25, "p": 0.63767, "s": 13, "w": "b"}, {"t": "0.6272", "i": 169.25, "p": 0.62836, "s": 13, "w": "b"}]},
 "mark": {"type": "text", "align": "left", "baseline": "middle", "font": "DejaVu Sans"},
 "encoding": {"x": {"field": "i", "type": "quantitative"}, "y": {"field": "p", "type": "quantitative"}, "text": {"field": "t"}, "size": {"field": "s", "type": "quantitative", "scale": null},
  "fontWeight": {"condition": {"test": "datum.w == 'b'", "value": "bold"}, "value": "normal"},
  "color": {"condition": {"test": "datum.t == '0.6680'", "value": "#f23645"}, "value": "#131722"}}},
{"data": {"values": [{"t": "SMA", "i": -9.73, "p": 0.69494, "k": "g"}, {"t": "0.65635", "i": -5.5, "p": 0.69494, "k": "r"}, {"t": "SMA", "i": -9.73, "p": 0.69283, "k": "g"}, {"t": "0.66395", "i": -5.5, "p": 0.69283, "k": "b"}, {"t": "Richard_Snow published on TradingView.com, Feb 19, 2024 10:24 UTC", "i": -11.2, "p": 0.69829, "k": "h"}]},
 "mark": {"type": "text", "align": "left", "baseline": "middle", "fontSize": 12},
 "encoding": {"x": {"field": "i", "type": "quantitative"}, "y": {"field": "p", "type": "quantitative"}, "text": {"field": "t"},
  "color": {"field": "k", "type": "nominal", "scale": {"domain": ["g", "r", "b", "h"], "range": ["#50535e", "#f23645", "#2f2ff5", "#131722"]}, "legend": null}}},
{"data": {"values": [{"i": 170.9, "p": 0.69469}]},
 "mark": {"type": "rect", "width": 46, "height": 40, "cornerRadius": 6, "fill": "#f7a823"},
 "encoding": {"x": {"field": "i", "type": "quantitative"}, "y": {"field": "p", "type": "quantitative"}}},
{"data": {"values": [{"a": 168.6, "b": 169.4, "lo": 0.69283, "hi": 0.69432}, {"a": 169.9, "b": 170.7, "lo": 0.69283, "hi": 0.69519}, {"a": 171.2, "b": 172.0, "lo": 0.69283, "hi": 0.69593}]},
 "mark": {"type": "rect", "fill": "white"},
 "encoding": {"x": {"field": "a", "type": "quantitative"}, "x2": {"field": "b"}, "y": {"field": "lo", "type": "quantitative"}, "y2": {"field": "hi"}}},
{"data": {"values": [{"t": "SÀN", "i": 176.7, "p": 0.69394, "k": "a"}, {"t": "UY TÍN", "i": 182.4, "p": 0.69394, "k": "b"}]},
 "mark": {"type": "text", "align": "left", "baseline": "middle", "fontSize": 17, "fontWeight": "bold"},
 "encoding": {"x": {"field": "i", "type": "quantitative"}, "y": {"field": "p", "type": "quantitative"}, "text": {"field": "t"},
  "color": {"field": "k", "type": "nominal", "scale": {"domain": ["a", "b"], "range": ["#3b3b3b", "#f5a623"]}, "legend": null}}},
{"data": {"values": [{"t": "✦", "i": 174.3, "p": 0.69631}]},
 "mark": {"type": "text", "align": "center", "baseline": "middle", "fontSize": 15, "color": "#f5a623"},
 "encoding": {"x": {"field": "i", "type": "quantitative"}, "y": {"field": "p", "type": "quantitative"}, "text": {"field": "t"}}},
{"data": {"values": [{"i": 199.65, "p": 0.6945}]},
 "mark": {"type": "rect", "width": 55, "height": 25, "cornerRadius": 4, "fill": "white", "stroke": "#e0e3eb"},
 "encoding": {"x": {"field": "i", "type": "quantitative"}, "y": {"field": "p", "type": "quantitative"}}},
{"data": {"values": [{"t": "USD", "i": 199.65, "p": 0.6945}]},
 "mark": {"type": "text", "align": "left", "baseline": "middle", "fontSize": 12, "dx": -19, "color": "#131722"},
 "encoding": {"x": {"field": "i", "type": "quantitative"}, "y": {"field": "p", "type": "quantitative"}, "text": {"field": "t"}}},
{"data": {"values": [{"t": "0.68996", "p": 0.69146, "k": "level"}, {"t": "0.68932", "p": 0.68929, "k": "level"}, {"t": "0.66800", "p": 0.66798, "k": "alert"}, {"t": "0.66395", "p": 0.66394, "k": "sma50"}, {"t": "0.65802", "p": 0.66053, "k": "level"}, {"t": "0.65770", "p": 0.65842, "k": "level"}, {"t": "0.65635", "p": 0.65616, "k": "sma200"}, {"t": "0.64586", "p": 0.64587, "k": "level"}, {"t": "0.63658", "p": 0.63655, "k": "level"}, {"t": "0.62724", "p": 0.62723, "k": "level"}]},
 "mark": {"type": "rect", "width": 56, "height": 17, "cornerRadius": 2},
 "encoding": {"x": {"datum": 199.01, "type": "quantitative"}, "y": {"field": "p", "type": "quantitative"},
  "color": {"field": "k", "type": "nominal", "scale": {"domain": ["level", "alert", "sma50", "sma200"], "range": ["#131722", "#f23645", "#3434f2", "#f23645"]}, "legend": null}}},
{"data": {"values": [{"t": "SMA:MA", "p": 0.66394, "k": "sma50"}, {"t": "SMA:MA", "p": 0.65616, "k": "sma200"}, {"t": "AUDUSD", "p": 0.65407, "k": "price"}]},
 "mark": {"type": "rect", "width": 51, "height": 17, "cornerRadius": 2},
 "encoding": {"x": {"datum": 191.2, "type": "quantitative"}, "y": {"field": "p", "type": "quantitative"},
  "color": {"field": "k", "type": "nominal", "scale": {"domain": ["sma50", "sma200", "price"], "range": ["#3434f2", "#f23645", "#26a69a"]}, "legend": null}}},
{"data": {"values": [{"p": 0.6532}]},
 "mark": {"type": "rect", "width": 60, "height": 31, "cornerRadius": 2, "fill": "#26a69a"},
 "encoding": {"x": {"datum": 199.3, "type": "quantitative"}, "y": {"field": "p", "type": "quantitative"}}},
{"data": {"values": [{"t": "0.68996", "p": 0.69146}, {"t": "0.68932", "p": 0.68929}, {"t": "0.66800", "p": 0.66798}, {"t": "0.66395", "p": 0.66394}, {"t": "0.65802", "p": 0.66053}, {"t": "0.65770", "p": 0.65842}, {"t": "0.65635", "p": 0.65616}, {"t": "0.65401", "p": 0.65407}, {"t": "11:35:04", "p": 0.65245}, {"t": "0.64586", "p": 0.64587}, {"t": "0.63658", "p": 0.63655}, {"t": "0.62724", "p": 0.62723}]},
 "mark": {"type": "text", "align": "left", "baseline": "middle", "fontSize": 12, "fontWeight": "bold", "color": "white", "dx": -24},
 "encoding": {"x": {"datum": 199.01, "type": "quantitative"}, "y": {"field": "p", "type": "quantitative"}, "text": {"field": "t"}}},
{"data": {"values": [{"t": "SMA:MA", "p": 0.66394}, {"t": "SMA:MA", "p": 0.65616}, {"t": "AUDUSD", "p": 0.65407}]},
 "mark": {"type": "text", "align": "center", "baseline": "middle", "fontSize": 12, "fontWeight": "bold", "color": "white"},
 "encoding": {"x": {"datum": 191.2, "type": "quantitative"}, "y": {"field": "p", "type": "quantitative"}, "text": {"field": "t"}}}
]
},
{
"width": 1460, "height": 98,
"resolve": {"scale": {"color": "independent"}},
"layer": [
{"data": {"values": [{"a": 30, "b": 70}]},
 "mark": {"type": "rect", "fill": "#7e57c2", "opacity": 0.1},
 "encoding": {"y": {"field": "a", "type": "quantitative", "scale": {"domain": [22.57, 78.57], "nice": false, "zero": false}, "axis": {"orient": "right", "title": null, "values": [60], "format": ".2f", "ticks": false, "labelPadding": 8, "labelFontSize": 12, "labelColor": "#50535e", "domainColor": "#50535e"}}, "y2": {"field": "b"}}},
{"data": {"values": [{"p": 70}, {"p": 30}]},
 "mark": {"type": "rule", "color": "#787b86", "strokeDash": [5, 4], "strokeWidth": 1},
 "encoding": {"y": {"field": "p", "type": "quantitative"}}},
{"data": {"values": [{"p": 50}]},
 "mark": {"type": "rule", "color": "#b2b5be", "strokeDash": [5, 4], "strokeWidth": 1},
 "encoding": {"y": {"field": "p", "type": "quantitative"}}},
{"data": {"name": "rsima"},
 "mark": {"type": "line", "color": "#f5dc2e", "strokeWidth": 1.2, "interpolate": "monotone", "clip": true},
 "encoding": {"x": {"field": "i", "type": "quantitative", "scale": {"domain": [-10.86, 195.06], "nice": false, "zero": false}, "axis": null}, "y": {"field": "v", "type": "quantitative"}}},
{"data": {"name": "rsi"},
 "mark": {"type": "line", "color": "#7e57c2", "strokeWidth": 1.2, "clip": true},
 "encoding": {"x": {"field": "i", "type": "quantitative"}, "y": {"field": "v", "type": "quantitative"}}},
{"data": {"values": [{"t": "RSI", "i": -9.73, "k": "g"}, {"t": "47.52", "i": -6.49, "k": "p"}, {"t": "38.98", "i": -1.27, "k": "y"}, {"t": "∅  ∅  ∅  ∅  ∅  ∅", "i": 3.95, "k": "g"}]},
 "mark": {"type": "text", "align": "left", "baseline": "middle", "fontSize": 12},
 "encoding": {"x": {"field": "i", "type": "quantitative"}, "y": {"datum": 70, "type": "quantitative"}, "text": {"field": "t"},
  "color": {"field": "k", "type": "nominal", "scale": {"domain": ["g", "p", "y"], "range": ["#50535e", "#7e57c2", "#f0d33a"]}, "legend": null}}},
{"data": {"values": [{"a": 190.7, "b": 194.8, "lo": 42.57, "hi": 52.29, "k": "p"}, {"a": 195.06, "b": 201.0, "lo": 42.57, "hi": 52.29, "k": "p"}, {"a": 183.6, "b": 194.8, "lo": 23.14, "hi": 32.86, "k": "y"}, {"a": 195.06, "b": 201.0, "lo": 23.14, "hi": 32.86, "k": "y"}, {"a": 181.9, "b": 194.8, "lo": 33.14, "hi": 42.4, "k": "w"}]},
 "mark": {"type": "rect", "cornerRadius": 2},
 "encoding": {"x": {"field": "a", "type": "quantitative"}, "x2": {"field": "b"}, "y": {"field": "lo", "type": "quantitative"}, "y2": {"field": "hi"},
  "color": {"field": "k", "type": "nominal", "scale": {"domain": ["p", "y", "w"], "range": ["#7e57c2", "#ffeb3b", "#ffffff"]}, "legend": null}}},
{"data": {"values": [{"t": "RSI", "i": 192.75, "p": 47.43, "k": "w"}, {"t": "47.52", "i": 198.0, "p": 47.43, "k": "w"}, {"t": "RSI-based MA", "i": 189.2, "p": 28.0, "k": "b"}, {"t": "38.98", "i": 198.0, "p": 28.0, "k": "b"}, {"t": "Regular Bearish", "i": 188.4, "p": 38.0, "k": "b"}, {"t": "45.65", "i": 198.0, "p": 38.0, "k": "b"}]},
 "mark": {"type": "text", "align": "center", "baseline": "middle", "fontSize": 12},
 "encoding": {"x": {"field": "i", "type": "quantitative"}, "y": {"field": "p", "type": "quantitative"}, "text": {"field": "t"},
  "color": {"field": "k", "type": "nominal", "scale": {"domain": ["w", "b"], "range": ["#ffffff", "#131722"]}, "legend": null}}}
]
},
{
"width": 1460, "height": 52,
"resolve": {"scale": {"color": "independent"}},
"layer": [
{"data": {"values": [{"p": 0}]},
 "mark": {"type": "rule", "color": "#b2b5be", "strokeDash": [5, 4], "strokeWidth": 1},
 "encoding": {"y": {"field": "p", "type": "quantitative", "scale": {"domain": [-0.00984, 0.01063], "nice": false, "zero": false}, "axis": {"orient": "right", "title": null, "labels": false, "ticks": false, "domainColor": "#50535e"}}}},
{"data": {"name": "hist"},
 "mark": {"type": "bar", "size": 5, "clip": true},
 "encoding": {"x": {"field": "i", "type": "quantitative", "scale": {"domain": [-10.86, 195.06], "nice": false, "zero": false},
   "axis": {"title": null, "values": [0, 21, 44, 65, 87, 109, 130, 153, 174, 195], "labelExpr": "datum.value == 0 ? 'Jul' : datum.value == 21 ? 'Aug' : datum.value == 44 ? 'Sep' : datum.value == 65 ? 'Oct' : datum.value == 87 ? 'Nov' : datum.value == 109 ? 'Dec' : datum.value == 130 ? '2024' : datum.value == 153 ? 'Feb' : datum.value == 174 ? 'Mar' : 'Apr'", "ticks": false, "labelPadding": 9, "labelFontSize": 12, "labelColor": "#50535e", "domainColor": "#50535e", "labelFlush": false, "labelOverlap": false, "labelFontWeight": {"condition": {"test": "datum.value == 130", "value": "bold"}, "value": "normal"}}},
  "y": {"field": "v", "type": "quantitative"}, "y2": {"datum": 0},
  "color": {"field": "s", "type": "nominal", "scale": {"domain": ["pg", "pf", "ng", "nf"], "range": ["#26a69a", "#b2dfdb", "#ff5252", "#ffcdd2"]}, "legend": null}}},
{"data": {"name": "signal"},
 "mark": {"type": "line", "color": "#ff6d00", "strokeWidth": 1.2, "interpolate": "monotone", "clip": true},
 "encoding": {"x": {"field": "i", "type": "quantitative"}, "y": {"field": "v", "type": "quantitative"}}},
{"data": {"name": "macd"},
 "mark": {"type": "line", "color": "#2962ff", "strokeWidth": 1.2, "interpolate": "monotone", "clip": true},
 "encoding": {"x": {"field": "i", "type": "quantitative"}, "y": {"field": "v", "type": "quantitative"}}},
{"data": {"values": [{"t": "MACD", "i": -9.73, "k": "g"}, {"t": "0.00054", "i": -4.51, "k": "t"}, {"t": "−0.00315", "i": 2.54, "k": "b"}, {"t": "−0.00368", "i": 10.3, "k": "o"}]},
 "mark": {"type": "text", "align": "left", "baseline": "middle", "fontSize": 12},
 "encoding": {"x": {"field": "i", "type": "quantitative"}, "y": {"datum": 0.00512, "type": "quantitative"}, "text": {"field": "t"},
  "color": {"field": "k", "type": "nominal", "scale": {"domain": ["g", "t", "b", "o"], "range": ["#50535e", "#26a69a", "#2962ff", "#ff6d00"]}, "legend": null}}},
{"data": {"values": [{"a": 185.9, "b": 194.5, "lo": -0.00276, "hi": 0.00394, "k": "t"}, {"a": 195.06, "b": 202.8, "lo": -0.00276, "hi": 0.00394, "k": "t"}, {"a": 189.4, "b": 194.5, "lo": -0.00945, "hi": -0.00275, "k": "b"}, {"a": 195.06, "b": 203.6, "lo": -0.00945, "hi": -0.00275, "k": "b"}]},
 "mark": {"type": "rect", "cornerRadius": 2},
 "encoding": {"x": {"field": "a", "type": "quantitative"}, "x2": {"field": "b"}, "y": {"field": "lo", "type": "quantitative"}, "y2": {"field": "hi"},
  "color": {"field": "k", "type": "nominal", "scale": {"domain": ["t", "b"], "range": ["#26a69a", "#2962ff"]}, "legend": null}}},
{"data": {"values": [{"t": "Histogram", "i": 190.2, "p": 0.00059}, {"t": "0.00054", "i": 198.9, "p": 0.00059}, {"t": "MACD", "i": 191.95, "p": -0.0061}, {"t": "−0.00315", "i": 199.33, "p": -0.0061}]},
 "mark": {"type": "text", "align": "center", "baseline": "middle", "fontSize": 12, "fontWeight": "bold", "color": "white"},
 "encoding": {"x": {"field": "i", "type": "quantitative"}, "y": {"field": "p", "type": "quantitative"}, "text": {"field": "t"}}},
{"data": {"values": [{"t": "17", "i": -10.86, "w": "b"}, {"t": "TradingView", "i": -7.62, "w": "n"}]},
 "mark": {"type": "text", "align": "left", "baseline": "middle", "fontSize": 13, "color": "#131722"},
 "encoding": {"x": {"field": "i", "type": "quantitative"}, "y": {"datum": -0.027953, "type": "quantitative"}, "text": {"field": "t"},
  "fontWeight": {"condition": {"test": "datum.w == 'b'", "value": 900}, "value": 400}}}
]
}
]
}
